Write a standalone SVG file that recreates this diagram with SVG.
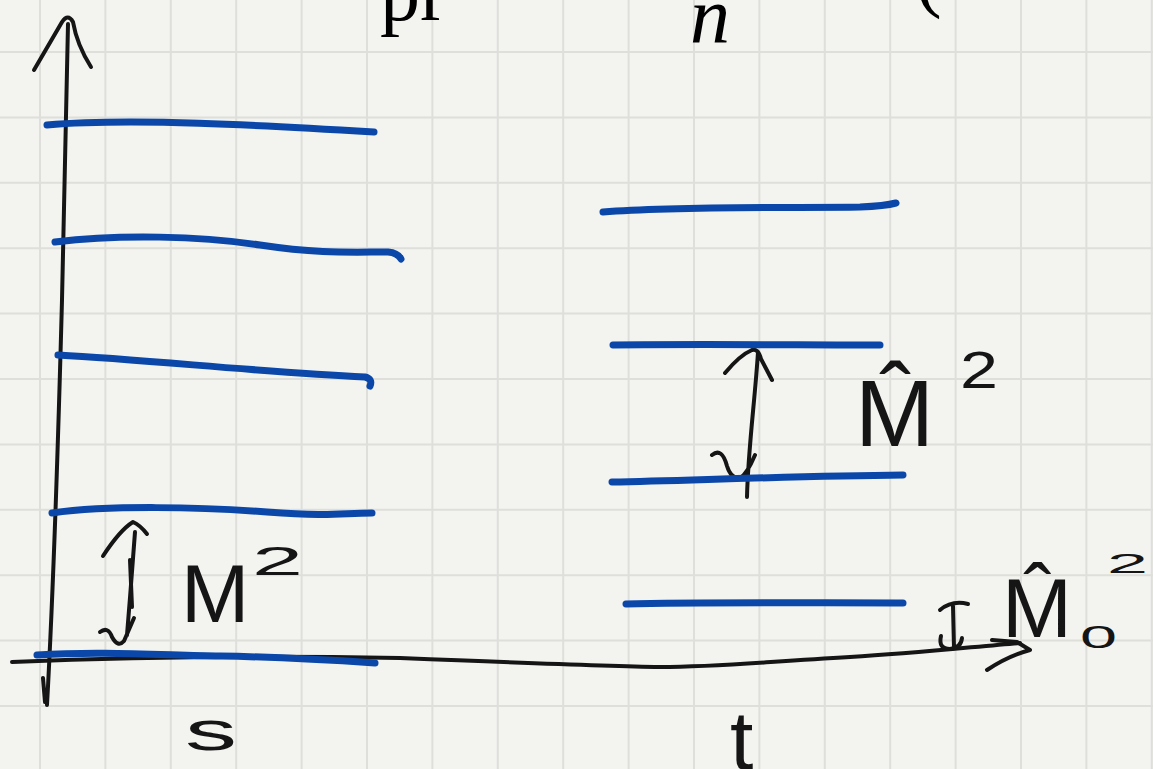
<svg xmlns="http://www.w3.org/2000/svg" width="1153" height="769" viewBox="0 0 1153 769">
<style>
.grid{stroke:#dededa;stroke-width:2;fill:none}
.lvl{stroke:#0a47a8;stroke-width:7;fill:none;stroke-linecap:round;stroke-linejoin:round}
.ink{stroke:#151515;stroke-width:4;fill:none;stroke-linecap:round;stroke-linejoin:round}
.hand{font-family:"Liberation Sans",Arial,sans-serif;fill:#151515}
.print{font-family:"Liberation Serif","Times New Roman",serif;fill:#000}
</style>
<rect width="1153" height="769" fill="#f3f3f0"/>
<g id="grid">
<path class="grid" d="M40,0V769M105.4,0V769M170.8,0V769M236.2,0V769M301.6,0V769M367,0V769M432.4,0V769M497.8,0V769M563.2,0V769M628.6,0V769M694,0V769M759.4,0V769M824.8,0V769M890.2,0V769M955.6,0V769M1021,0V769M1086.4,0V769M1151.8,0V769"/>
<path class="grid" d="M0,52H1153M0,117.4H1153M0,182.8H1153M0,248.2H1153M0,313.6H1153M0,379H1153M0,444.4H1153M0,509.8H1153M0,575.2H1153M0,640.6H1153M0,706H1153"/>
</g>
<g id="title">
<text class="print" x="380" y="20" font-size="80">pr</text>
<text class="print" x="690" y="42" font-size="80" font-style="italic">n</text>
<text class="print" x="915" y="2" font-size="80">(</text>
</g>
<g id="connectors">
<path id="axis-vertical" class="ink" d="M68,24 L62,300 Q55,560 47,705 M43,678 L45,702"/>
<path id="axis-vertical-head" class="ink" d="M34,70 L62,22 Q68,13 73,22 Q77,45 91,67"/>
<path id="axis-horizontal" class="ink" d="M12,662 C150,656 300,656 400,658 C500,662 600,666 660,667 C720,667 760,662 850,657 C920,653 980,646 1020,643"/>
<path id="axis-horizontal-head" class="ink" d="M992,640 L1017,642 L1030,650 M987,670 Q1008,656 1030,650"/>
<path id="gap-left" class="ink" d="M135,532 C132,570 130,600 127,635 M130,560 L132,607 M103,556 Q120,530 133,522 Q140,525 147,534 M100,632 Q108,626 112,637 Q118,648 124,641 L134,618"/>
<path id="gap-right" class="ink" d="M758,352 C755,400 748,450 747,497 M725,373 Q740,355 752,350 Q758,348 761,359 L772,380 M712,455 Q722,447 727,466 Q731,479 740,478 Q747,474 755,455"/>
<path id="gap-ground" class="ink" d="M940,610 Q952,600 968,604 M953,606 L954,648 M941,636 Q938,649 950,649 Q961,648 962,638"/>
</g>
<g id="s-levels">
<g id="s-level-0"><path class="lvl" d="M37,655 C100,651 160,655 220,656 S330,660 375,663"/></g>
<g id="s-level-1"><path class="lvl" d="M52,513 C110,505 200,507 267,512 S340,513 372,513"/></g>
<g id="s-level-2"><path class="lvl" d="M58,355 C150,360 260,372 365,377 Q373,379 370,386"/></g>
<g id="s-level-3"><path class="lvl" d="M55,242 C120,234 200,236 260,245 S350,252 388,252 Q398,253 401,259"/></g>
<g id="s-level-4"><path class="lvl" d="M47,125 C130,118 260,125 374,132"/></g>
</g>
<g id="t-levels">
<g id="t-level-0"><path class="lvl" d="M626,604 C700,602 800,603 903,603"/></g>
<g id="t-level-1"><path class="lvl" d="M612,482 C700,480 800,476 903,475"/></g>
<g id="t-level-2"><path class="lvl" d="M613,345 C700,344 800,345 880,345"/></g>
<g id="t-level-3"><path class="lvl" d="M603,212 C680,206 800,208 860,207 Q885,206 896,203"/></g>
</g>
<g id="labels">
<g id="label-M2"><text class="hand" x="181" y="622" font-size="82">M</text><text class="hand" x="252" y="575" font-size="40" textLength="51" lengthAdjust="spacingAndGlyphs">2</text></g>
<g id="label-Mhat2"><text class="hand" x="855" y="446" font-size="95">M̂</text><text class="hand" x="960" y="388" font-size="52" textLength="38" lengthAdjust="spacingAndGlyphs">2</text></g>
<g id="label-Mhat02"><text class="hand" x="1002" y="637" font-size="84">M̂</text><text class="hand" x="1080" y="648" font-size="32" textLength="37" lengthAdjust="spacingAndGlyphs">0</text><text class="hand" x="1107" y="573" font-size="28" textLength="41" lengthAdjust="spacingAndGlyphs">2</text></g>
<g id="label-s"><text class="hand" x="185" y="750" font-size="56" textLength="52" lengthAdjust="spacingAndGlyphs">s</text></g>
<g id="label-t"><text class="hand" x="730" y="769" font-size="84">t</text></g>
</g>
</svg>
